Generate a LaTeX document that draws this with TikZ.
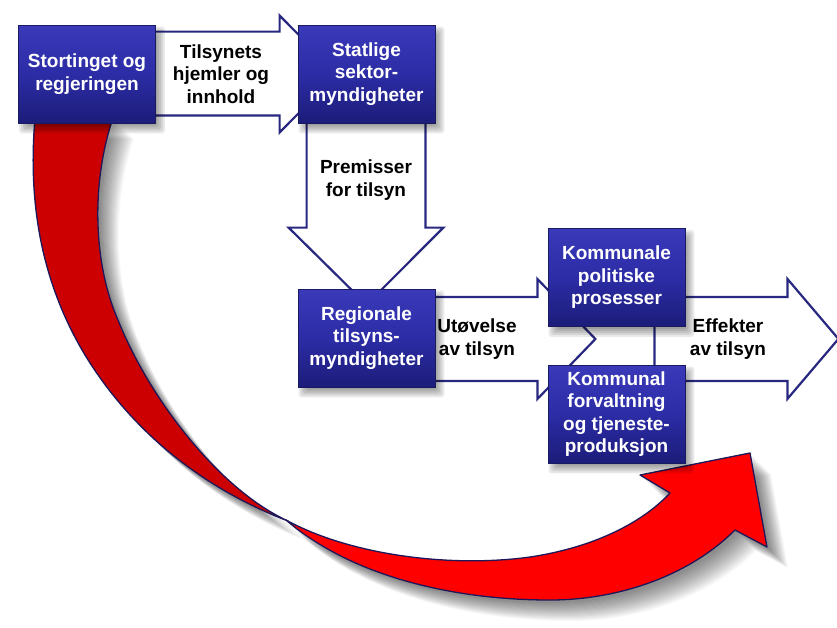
\documentclass[tikz,border=0pt]{standalone}
\usepackage{fontspec}
\setmainfont{Liberation Sans}
\pgfdeclarelayer{bgl}\pgfdeclarelayer{redl}\pgfdeclarelayer{arrl}\pgfdeclarelayer{shadl}
\pgfsetlayers{bgl,redl,arrl,shadl,main}
\definecolor{navy}{RGB}{40,40,128}
\definecolor{boxtop}{RGB}{58,58,186}
\definecolor{boxmid}{RGB}{44,44,166}
\definecolor{boxbot}{RGB}{28,28,122}
\definecolor{boxline}{RGB}{26,26,96}
\definecolor{reddark}{RGB}{204,0,0}
\definecolor{redbright}{RGB}{255,0,0}
\definecolor{redline}{RGB}{30,24,90}
\tikzset{
 bluebox/.style={rectangle, minimum width=137pt, minimum height=98pt, inner sep=2pt,
   top color=boxtop, bottom color=boxbot, middle color=boxmid, draw=boxline, line width=0.8pt,
   text=white, font=\bfseries\fontsize{19}{22.5}\selectfont, align=center},
 lbl/.style={text=black, font=\bfseries\fontsize{19}{22.5}\selectfont, align=center, inner sep=0pt},
 barrow/.style={draw=navy, fill=white, line width=2.2pt, line join=miter},
 redout/.style={draw=redline, line width=1.3pt, line join=round},
 redshadow/.style={fill=black, opacity=0.026},
}
\newcommand\darkribbon{(35,118) .. controls (28,200) and (40,280) .. (85,355) .. controls (140,445) and (220,495) .. (288,521) .. controls (220,490) and (150,400) .. (118,320) .. controls (92,260) and (92,180) .. (113,118) -- cycle}
\newcommand\brightribbon{(286,520) .. controls (350,555) and (450,568) .. (530,557) .. controls (590,548) and (640,525) .. (670,493) -- (640,475) -- (750,453) -- (767,547) -- (735,530) .. controls (690,575) and (620,600) .. (550,600) .. controls (450,600) and (350,575) .. (286,520) -- cycle}
\newcommand\bxshadow[1]{\foreach \a in {1,3,5,7,9}{\fill[black,opacity=0.085,rounded corners=3pt] ([shift={(\a,{\a+1})}]#1.north west) rectangle ([shift={({10-\a},{11-\a})}]#1.south east);}}
\begin{document}
\begin{tikzpicture}[x=1pt,y=-1pt]
\useasboundingbox (0,0) rectangle (837,627);
\begin{pgfonlayer}{bgl}
\fill[white] (0,0) rectangle (837,627);
\end{pgfonlayer}

% boxes
\node[bluebox] (b1) at (87,74) {Stortinget og\\regjeringen};
\node[bluebox] (b2) at (366.5,74) {Statlige\\sektor-\\myndigheter};
\node[bluebox] (b3) at (366.5,338) {Regionale\\tilsyns-\\myndigheter};
\node[bluebox] (b4) at (616.5,277.5) {Kommunale\\politiske\\prosesser};
\node[bluebox] (b5) at (616.5,414) {Kommunal\\forvaltning\\og tjeneste-\\produksjon};

% labels
\node[lbl] (l1) at (221,74) {Tilsynets\\hjemler og\\innhold};
\node[lbl] (l2) at (366,180) {Premisser\\for tilsyn};
\node[lbl] (l3) at (477,339) {Utøvelse\\av tilsyn};
\node[lbl] (l4) at (728,339) {Effekter\\av tilsyn};

% box shadows
\begin{pgfonlayer}{shadl}
\bxshadow{b1}\bxshadow{b2}\bxshadow{b3}\bxshadow{b4}\bxshadow{b5}
\end{pgfonlayer}

% block arrows
\begin{pgfonlayer}{arrl}
\draw[barrow] ([shift={(-5,7)}]b1.north east) -- ([shift={(-18,7)}]b2.north west)
  -- ([shift={(-18,-9)}]b2.north west) -- ([shift={(40,0)}]b2.west)
  -- ([shift={(-18,9)}]b2.south west) -- ([shift={(-18,-8)}]b2.south west)
  -- ([shift={(-5,-8)}]b1.south east) -- cycle;
\draw[barrow] ([shift={(9,-5)}]b2.south west) -- ([shift={(9,-61)}]b3.north west)
  -- ([shift={(-9,-61)}]b3.north west) -- ([shift={(0,16)}]b3.north)
  -- ([shift={(8,-61)}]b3.north east) -- ([shift={(-10,-61)}]b3.north east)
  -- ([shift={(-10,-5)}]b2.south east) -- cycle;
\draw[barrow] ([shift={(-31,-30)}]b4.south east) -- ([shift={(102,-30)}]b4.south east)
  -- ([shift={(102,-48)}]b4.south east) -- ([shift={(153,12)}]b4.south east)
  -- ([shift={(102,72)}]b4.south east) -- ([shift={(102,54)}]b4.south east)
  -- ([shift={(-31,54)}]b4.south east) -- cycle;
\draw[barrow] ([shift={(-5,-41)}]b3.east) -- ([shift={(102,-41)}]b3.east)
  -- ([shift={(102,-59)}]b3.east) -- ([shift={(160,1)}]b3.east)
  -- ([shift={(102,61)}]b3.east) -- ([shift={(102,43)}]b3.east)
  -- ([shift={(-5,43)}]b3.east) -- cycle;
\end{pgfonlayer}

% red curved arrow
\begin{pgfonlayer}{redl}
\foreach \s in {3,4,...,21}{
  \fill[redshadow,shift={(\s,\s)}] \darkribbon;
  \fill[redshadow,shift={(\s,\s)}] \brightribbon;
}
\filldraw[fill=reddark,redout] \darkribbon;
\filldraw[fill=redbright,redout] \brightribbon;
\end{pgfonlayer}
\end{tikzpicture}
\end{document}
